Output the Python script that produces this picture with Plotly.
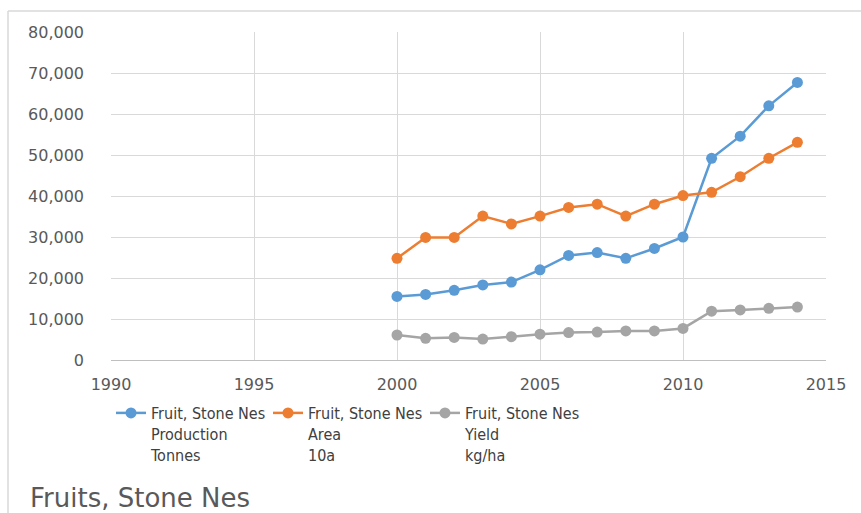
import plotly.graph_objects as go

# Fruit, Stone Nes — production, area and yield by year
years = list(range(2000, 2015))
production_t = [15500, 16000, 17000, 18300, 19000, 22000, 25500, 26200, 24800,
                27200, 30000, 49200, 54600, 62000, 67700]
area_10a = [24800, 29900, 29900, 35100, 33200, 35100, 37200, 38000, 35100,
            38000, 40100, 40900, 44700, 49200, 53100]
yield_kg_ha = [6100, 5300, 5500, 5100, 5700, 6300, 6700, 6800, 7100,
               7100, 7700, 11900, 12200, 12600, 12900]

series_names = [
    "Fruit, Stone Nes<br>Production<br>Tonnes",
    "Fruit, Stone Nes<br>Area<br>10a",
    "Fruit, Stone Nes<br>Yield<br>kg/ha",
]
series_colors = ["#5b9bd5", "#ed7d31", "#a5a5a5"]
x_ticks = [1990, 1995, 2000, 2005, 2010, 2015]
y_ticks = [0, 10000, 20000, 30000, 40000, 50000, 60000, 70000, 80000]
chart_title = "Fruits, Stone Nes"

fig = go.Figure()
for name, values, color in zip(series_names,
                               [production_t, area_10a, yield_kg_ha],
                               series_colors):
    fig.add_trace(go.Scatter(
        x=years, y=values, name=name, mode="lines+markers",
        line=dict(color=color, width=2.5),
        marker=dict(color=color, size=11),
    ))

# plot area in pixels: left 111, right 826, top 32, bottom 360
L, R, T, B = 111, 826, 32, 360
W, H = 861, 513


def px_x(p):
    return (p - L) / (R - L)


def px_y(p):
    return (B - p) / (B - T)


tick_font = dict(family="DejaVu Sans", size=16, color="#595959")

fig.update_layout(
    width=W, height=H,
    margin=dict(l=L, r=W - R, t=T, b=H - B),
    paper_bgcolor="white", plot_bgcolor="white",
    xaxis=dict(
        range=[1990, 2015], tickvals=x_ticks,
        showgrid=True, gridcolor="#d9d9d9", gridwidth=1,
        showline=True, linecolor="#bfbfbf", linewidth=1,
        zeroline=False, ticks="", tickfont=tick_font,
        ticklabelstandoff=10,
    ),
    yaxis=dict(
        range=[0, 80000], tickvals=y_ticks, tickformat=",d",
        showgrid=True, gridcolor="#d9d9d9", gridwidth=1,
        zeroline=False, ticks="", tickfont=tick_font,
        ticklabelstandoff=26,
    ),
    showlegend=True,
    legend=dict(
        orientation="h", valign="top",
        x=px_x(111), xanchor="left",
        y=px_y(396), yanchor="top",
        entrywidth=112, entrywidthmode="pixels",
        font=dict(family="DejaVu Sans Condensed, Lato", size=16, color="#404040"),
        itemwidth=30, tracegroupgap=0,
        bgcolor="rgba(0,0,0,0)",
    ),
    title=dict(
        text=chart_title, x=30 / W, xanchor="left",
        y=1 - 498 / H, yanchor="middle", yref="container",
        font=dict(family="DejaVu Sans", size=26, color="#595959"),
    ),
    shapes=[
        # outer chart frame
        dict(type="line", xref="paper", yref="paper",
             x0=px_x(8), x1=px_x(W + 5), y0=px_y(11), y1=px_y(11),
             line=dict(color="#d9d9d9", width=1.5)),
        dict(type="line", xref="paper", yref="paper",
             x0=px_x(8), x1=px_x(8), y0=px_y(11), y1=px_y(H + 5),
             line=dict(color="#d9d9d9", width=1.5)),
    ],
)

fig.write_html("out.html")
